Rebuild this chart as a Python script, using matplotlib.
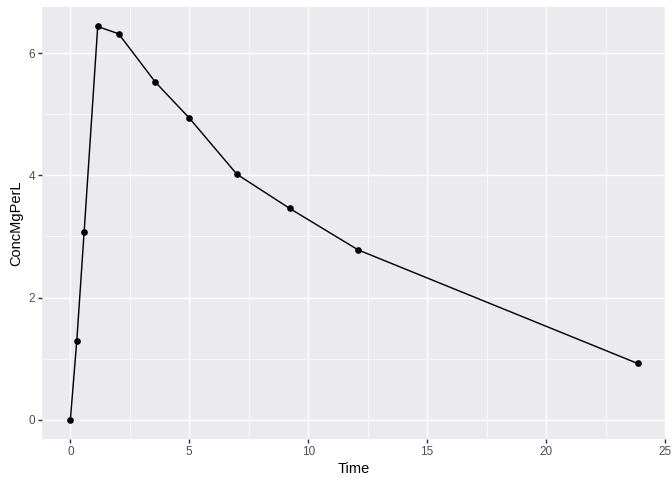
import matplotlib
matplotlib.use("Agg")
import matplotlib.pyplot as plt
from matplotlib.ticker import FixedLocator

plt.rcParams["font.family"] = ["Liberation Sans", "DejaVu Sans"]

# Theoph subject 6
time = [0.0, 0.27, 0.58, 1.15, 2.03, 3.57, 5.00, 7.00, 9.22, 12.10, 23.85]
conc = [0.0, 1.29, 3.08, 6.44, 6.32, 5.53, 4.94, 4.02, 3.46, 2.78, 0.92]

x_ticks = [0, 5, 10, 15, 20, 25]
y_ticks = [0, 2, 4, 6]
x_minor = [2.5, 7.5, 12.5, 17.5, 22.5]
y_minor = [1, 3, 5]


def main() -> None:
    fig = plt.figure(figsize=(7, 5), dpi=96)
    ax = fig.add_axes([0.0625, 0.0848, 0.9286, 0.901])
    ax.set_facecolor("#EBEAEE")

    ax.plot(time, conc, color="black", linewidth=1.07, marker="o",
            markersize=5, markeredgewidth=0, zorder=3)

    # ggplot-style padding: 5% of the data range each side
    xr = max(time) - min(time)
    yr = max(conc) - min(conc)
    ax.set_xlim(min(time) - 0.05 * xr, max(time) + 0.05 * xr)
    ax.set_ylim(min(conc) - 0.05 * yr, max(conc) + 0.05 * yr)

    ax.xaxis.set_major_locator(FixedLocator(x_ticks))
    ax.yaxis.set_major_locator(FixedLocator(y_ticks))
    ax.xaxis.set_minor_locator(FixedLocator(x_minor))
    ax.yaxis.set_minor_locator(FixedLocator(y_minor))

    ax.grid(which="major", color="white", linewidth=1.07)
    ax.grid(which="minor", color="white", linewidth=0.53)
    ax.set_axisbelow(True)

    for s in ax.spines.values():
        s.set_visible(False)

    ax.tick_params(which="major", length=2.75, width=1.07, color="#333333",
                   labelsize=8.8, labelcolor="#4D4D4D", pad=2.2)
    ax.tick_params(which="minor", length=0)

    ax.set_xlabel("Time", fontsize=11, labelpad=3)
    ax.set_ylabel("ConcMgPerL", fontsize=11, labelpad=4)

    fig.savefig("out.png", dpi=96)
    plt.close(fig)


if __name__ == "__main__":
    main()
